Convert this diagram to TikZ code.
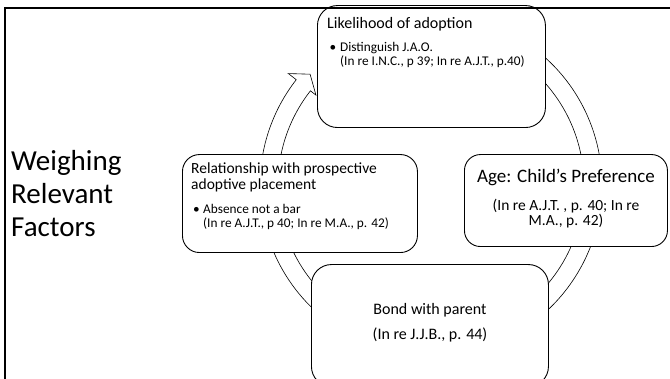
\documentclass[tikz,border=0pt]{standalone}
\usepackage{fontspec}
\setmainfont{Carlito}
\begin{document}
\begin{tikzpicture}[x=1pt,y=1pt,
  factor/.style={draw=black, line width=0.9pt, fill=white, rounded corners=#1, inner sep=0pt},
  factor/.default=18pt,
  ring/.style={draw=black, line width=0.6pt, fill=white},
  frame/.style={draw=black, line width=2.6pt},
  head/.style={font=\fontsize{15.5}{18}\selectfont, inner sep=0pt},
  sub/.style={font=\fontsize{13.3}{15}\selectfont, inner sep=0pt},
  bigsub/.style={font=\fontsize{15.5}{17}\selectfont, inner sep=0pt},
  title/.style={font=\fontsize{29}{33}\selectfont, inner sep=0pt}]
\useasboundingbox (0,0) rectangle (670,379);

% cycle arrow running behind the four factors
\coordinate (C) at (431,194);
\draw[ring] ([shift={(C)}]420:171) arc[start angle=420, end angle=142, radius=171]
  -- ([shift={(C)}]142:181) -- ([shift={(C)}]137.5:164) -- ([shift={(C)}]142:146)
  -- ([shift={(C)}]142:153) arc[start angle=142, end angle=420, radius=153] -- cycle;

% factor boxes
\node[factor=20pt, anchor=south west, minimum width=228pt, minimum height=122pt] (likely) at (317,251) {};
\node[factor=17pt, anchor=south west, minimum width=235pt, minimum height=98pt] (relation) at (182,126) {};
\node[factor=16pt, anchor=south west, minimum width=203pt, minimum height=92pt] (age) at (464,132) {};
\node[factor=20pt, anchor=south west, minimum width=237pt, minimum height=122pt] (bond) at (311,-8) {};

% likelihood of adoption
\node[head, font=\fontsize{16}{18}\selectfont, anchor=base west] (likelyT) at (327,350) {Likelihood of adoption};
\node[sub, anchor=base west] (likelyB) at (329.5,327) {\textbullet};
\node[sub, anchor=base west] (likelyA) at (340,327) {Distinguish J.A.O.};
\node[sub, anchor=base west] (likelyC) at (340,313) {(In re I.N.C., p 39; In re A.J.T., p.40)};

% relationship with prospective adoptive placement
\node[head, anchor=base west] (relT1) at (191,205) {Relationship with prospective};
\node[head, anchor=base west] (relT2) at (191,189) {adoptive placement};
\node[sub, anchor=base west] (relB) at (193,165) {\textbullet};
\node[sub, anchor=base west] (relA) at (203,165) {Absence not a bar};
\node[sub, anchor=base west] (relC) at (203,151) {(In re A.J.T., p 40; In re M.A., p. 42)};

% age: child's preference
\node[font=\fontsize{19}{22}\selectfont, inner sep=0pt, anchor=base] (ageT) at (566,196) {Age: Child’s Preference};
\node[bigsub, anchor=base] (ageA) at (566,168) {(In re A.J.T. , p. 40; In re};
\node[bigsub, anchor=base] (ageB) at (566,153) {M.A., p. 42)};

% bond with parent
\node[bigsub, font=\fontsize{16}{18}\selectfont, anchor=base] (bondT) at (430,64) {Bond with parent};
\node[bigsub, font=\fontsize{16}{18}\selectfont, anchor=base] (bondA) at (430,39) {(In re J.J.B., p. 44)};

% slide title
\node[title, anchor=base west] (t1) at (11,208) {Weighing};
\node[title, anchor=base west] (t2) at (11,175) {Relevant};
\node[title, anchor=base west] (t3) at (11,142) {Factors};

% slide frame
\draw[frame] (5,-5) -- (5,371) -- (680,371);
\end{tikzpicture}
\end{document}
